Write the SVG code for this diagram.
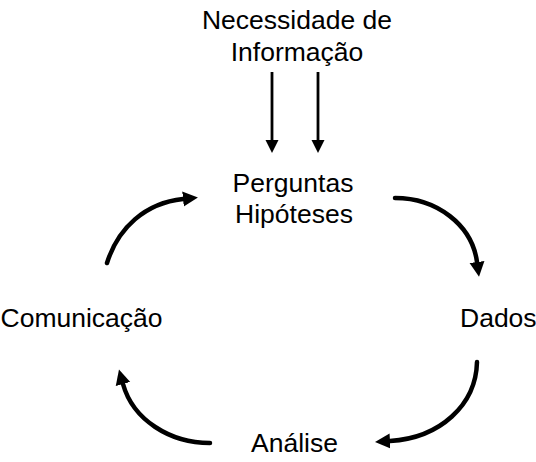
<svg xmlns="http://www.w3.org/2000/svg" width="536" height="462" viewBox="0 0 536 462">
<style>
text{font-family:"Liberation Sans",Arial,sans-serif;font-size:26.5px;fill:#000}
.arc{fill:none;stroke:#000;stroke-width:4.5;stroke-linecap:round}
.down{fill:none;stroke:#000;stroke-width:2.8}
</style>
<defs>
<marker id="bigHead" markerUnits="userSpaceOnUse" markerWidth="16" markerHeight="16" refX="0" refY="7.5" orient="auto" viewBox="0 0 16 15">
<path d="M0,0 L15,7.5 L0,15 z" fill="#000"/>
</marker>
<marker id="smallHead" markerUnits="userSpaceOnUse" markerWidth="14" markerHeight="14" refX="0" refY="6.5" orient="auto" viewBox="0 0 14 13">
<path d="M0,0 L13,6.5 L0,13 z" fill="#000"/>
</marker>
</defs>
<g id="connectors">
<line class="down" x1="272" y1="72" x2="272" y2="140" marker-end="url(#smallHead)"/>
<line class="down" x1="318" y1="72" x2="318" y2="140" marker-end="url(#smallHead)"/>
<path class="arc" d="M395,198 C437,198 472,225 477,262" marker-end="url(#bigHead)"/>
<path class="arc" d="M477,362 C476,405 440,438 390,441" marker-end="url(#bigHead)"/>
<path class="arc" d="M210,443 C170,443 133,420 123,384" marker-end="url(#bigHead)"/>
<path class="arc" d="M107,263 C118,228 145,203 183,199" marker-end="url(#bigHead)"/>
</g>
<g id="necessidade">
<text x="297" y="29" text-anchor="middle">Necessidade de</text>
<text x="297" y="61" text-anchor="middle">Informação</text>
</g>
<g id="perguntas">
<text x="293" y="192" text-anchor="middle">Perguntas</text>
<text x="294" y="223" text-anchor="middle">Hipóteses</text>
</g>
<g id="dados">
<text x="460" y="327">Dados</text>
</g>
<g id="analise">
<text x="294.5" y="452" text-anchor="middle">Análise</text>
</g>
<g id="comunicacao">
<text x="0.5" y="327">Comunicação</text>
</g>
</svg>
